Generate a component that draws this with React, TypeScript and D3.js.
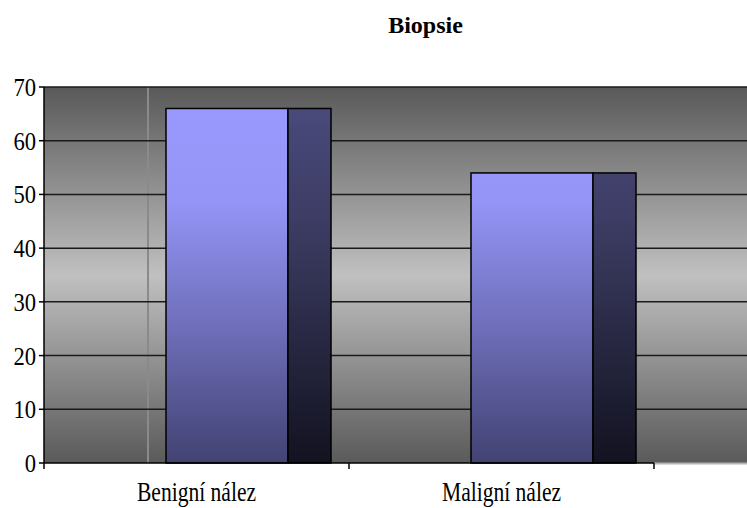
import React from "react";
import * as d3 from "d3";

// Biopsy results: count per finding
const categories: string[] = ["Benigní nález", "Maligní nález"];
const counts: number[] = [66, 54];
const yTicks: number[] = [0, 10, 20, 30, 40, 50, 60, 70];
const title = "Biopsie";

const W = 747;
const H = 508;
const left = 44;
const top = 87;
const bottom = 463;
const axisEnd = 654;

export default function App() {
  const x = d3.scaleBand<string>().domain(categories).range([left, axisEnd]).padding(0);
  const y = d3.scaleLinear().domain([0, 70]).range([bottom, top]);
  const bw = x.bandwidth();
  const frontOff = bw * 0.4;
  const frontW = bw * 0.4;
  const sideW = bw * 0.141;
  const font = "Liberation Serif, Times New Roman, serif";

  return (
    <svg width={W} height={H} style={{ position: "absolute", left: 0, top: 0 }} fontFamily={font}>
      <defs>
        <linearGradient id="bg" x1="0" y1={top} x2="0" y2={bottom} gradientUnits="userSpaceOnUse">
          <stop offset="0" stopColor="#595959" />
          <stop offset="0.5" stopColor="#c0c0c0" />
          <stop offset="1" stopColor="#5a5a5a" />
        </linearGradient>
        <linearGradient id="front" x1="0" y1={top} x2="0" y2={bottom} gradientUnits="userSpaceOnUse">
          <stop offset="0" stopColor="#9a9aff" />
          <stop offset="0.3" stopColor="#9595f7" />
          <stop offset="0.65" stopColor="#6d6db8" />
          <stop offset="1" stopColor="#424272" />
        </linearGradient>
        <linearGradient id="side" x1="0" y1={top} x2="0" y2={bottom} gradientUnits="userSpaceOnUse">
          <stop offset="0" stopColor="#4c4c80" />
          <stop offset="0.4" stopColor="#3a3a60" />
          <stop offset="1" stopColor="#121220" />
        </linearGradient>
      </defs>
      <rect x={0} y={0} width={W} height={H} fill="#ffffff" />

      <text x={425.5} y={33} textAnchor="middle" fontWeight="bold" fontSize={24}>
        {title}
      </text>

      {/* plot area */}
      <rect x={left} y={top} width={W - left} height={bottom - top} fill="url(#bg)" />
      <line x1={148} x2={148} y1={top} y2={bottom} stroke="#8a8a8a" strokeWidth={2} />
      {yTicks.filter((t) => t > 0).map((t) => (
        <line key={t} x1={left} x2={W} y1={y(t)} y2={y(t)} stroke="#1a1a1a" strokeWidth={1.5} />
      ))}
      <line x1={axisEnd} x2={W} y1={bottom + 0.5} y2={bottom + 0.5} stroke="#b4b4b4" strokeWidth={2} />

      {/* columns */}
      {categories.map((c, i) => {
        const x0 = (x(c) as number) + frontOff;
        const yt = y(counts[i]);
        return (
          <g key={c}>
            <rect x={x0} y={yt} width={frontW} height={bottom - yt} fill="url(#front)" stroke="#000" strokeWidth={1.5} />
            <rect x={x0 + frontW} y={yt} width={sideW} height={bottom - yt} fill="url(#side)" stroke="#000" strokeWidth={1.5} />
          </g>
        );
      })}

      {/* axes */}
      <line x1={left} x2={left} y1={top} y2={bottom} stroke="#000" strokeWidth={1.5} />
      <line x1={left} x2={axisEnd} y1={bottom} y2={bottom} stroke="#000" strokeWidth={1.5} />
      {yTicks.map((t) => (
        <g key={t}>
          <line x1={39} x2={left} y1={y(t)} y2={y(t)} stroke="#000" strokeWidth={1.5} />
          <text
            x={36}
            y={y(t) + 9}
            textAnchor="end"
            fontSize={26}
            textLength={String(t).length * 11.3}
            lengthAdjust="spacingAndGlyphs"
          >
            {t}
          </text>
        </g>
      ))}
      {[left, ...categories.map((c) => (x(c) as number) + bw)].map((tx, i) => (
        <line key={i} x1={tx} x2={tx} y1={bottom} y2={bottom + 6} stroke="#000" strokeWidth={1.5} />
      ))}
      {categories.map((c) => (
        <text
          key={c}
          x={(x(c) as number) + bw / 2}
          y={501}
          textAnchor="middle"
          fontSize={27}
          textLength={119}
          lengthAdjust="spacingAndGlyphs"
        >
          {c}
        </text>
      ))}
    </svg>
  );
}
